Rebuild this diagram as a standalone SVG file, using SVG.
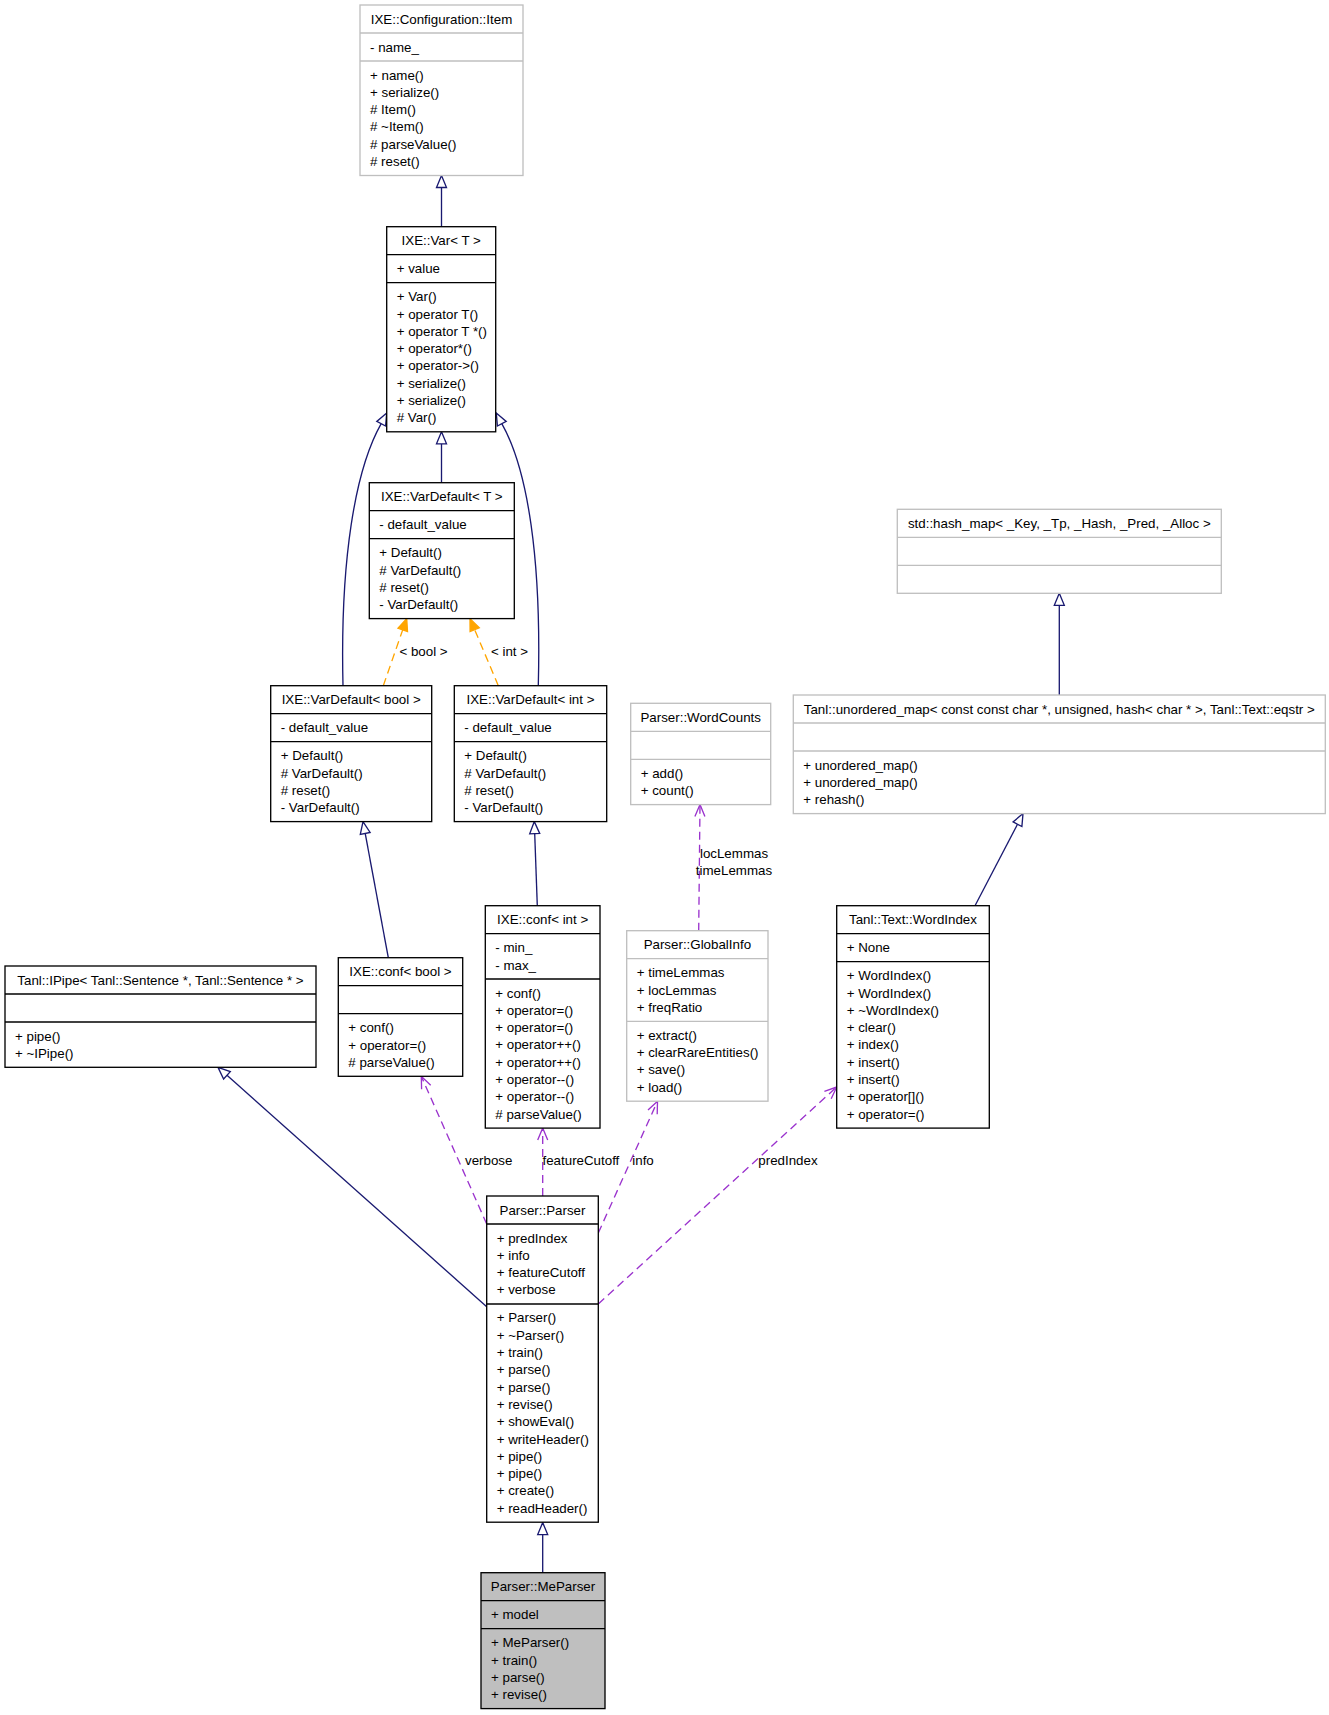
<svg xmlns="http://www.w3.org/2000/svg" width="1329" height="1715" viewBox="0 0 1329 1715">
<style>
text{font-family:"Liberation Sans",Arial,sans-serif;font-size:13.33px;fill:#000}
.t{text-anchor:middle}
.b{fill:#fff;stroke:#000;stroke-width:1.33}
.g{fill:#fff;stroke:#bfbfbf;stroke-width:1.33}
.m{fill:#bfbfbf;stroke:#000;stroke-width:1.33}
.sb{stroke:#000;stroke-width:1.33}
.sg{stroke:#bfbfbf;stroke-width:1.33}
.nv{fill:none;stroke:#191970;stroke-width:1.33}
.nvh{fill:#fff;stroke:#191970;stroke-width:1.33}
.or{fill:none;stroke:#ffa500;stroke-width:1.33;stroke-dasharray:8,5}
.orh{fill:#ffa500;stroke:#ffa500;stroke-width:1.33}
.pu{fill:none;stroke:#9a32cd;stroke-width:1.33;stroke-dasharray:8,5}
.puh{fill:none;stroke:#9a32cd;stroke-width:1.33}
</style>
<rect x="0" y="0" width="1329" height="1715" fill="#fff"/>

<g id="connectors">
<line class="nv" x1="441.5" y1="226.7" x2="441.5" y2="187.5"/>
<polygon class="nvh" points="441.5,175.5 446.5,187.5 436.5,187.5"/>
<line class="nv" x1="441.5" y1="482.7" x2="441.5" y2="443.8"/>
<polygon class="nvh" points="441.5,431.8 446.5,443.8 436.5,443.8"/>
<path class="nv" d="M343,685.7 C340,560 355,470 381.2,423.7"/>
<polygon class="nvh" points="386.7,413 385.6,426 376.8,421.4"/>
<path class="nv" d="M538.3,685.7 C541.5,560 528,470 501.8,423.7"/>
<polygon class="nvh" points="496.3,413 497.4,426 506.2,421.4"/>
<line class="nv" x1="388.3" y1="957.7" x2="365.2" y2="833.4"/>
<polygon class="nvh" points="363,821.6 370.1,832.5 360.3,834.3"/>
<line class="nv" x1="537.3" y1="905.7" x2="534.7" y2="833.6"/>
<polygon class="nvh" points="534.3,821.6 539.7,833.4 529.7,833.8"/>
<line class="nv" x1="1059.3" y1="695" x2="1059.3" y2="605.3"/>
<polygon class="nvh" points="1059.3,593.3 1064.3,605.3 1054.3,605.3"/>
<line class="nv" x1="975" y1="905.7" x2="1017.5" y2="824.2"/>
<polygon class="nvh" points="1023,813.6 1021.9,826.5 1013.1,821.9"/>
<line class="nv" x1="486.7" y1="1306.7" x2="227" y2="1075.3"/>
<polygon class="nvh" points="218,1067.3 230.3,1071.6 223.6,1079"/>
<line class="nv" x1="542.7" y1="1572.7" x2="542.7" y2="1534.6"/>
<polygon class="nvh" points="542.7,1522.6 547.7,1534.6 537.7,1534.6"/>

<line class="or" x1="383.3" y1="685.7" x2="402.7" y2="629.9"/>
<polygon class="orh" points="406.7,618.6 407.5,631.5 398,628.3"/>
<text class="t" x="423.5" y="656">&lt; bool &gt;</text>
<line class="or" x1="498.3" y1="685.7" x2="474.7" y2="629.7"/>
<polygon class="orh" points="470,618.6 479.3,627.8 470.1,631.6"/>
<text class="t" x="509.5" y="656">&lt; int &gt;</text>

<line class="pu" x1="486.7" y1="1224" x2="421.3" y2="1076.3"/>
<polyline class="puh" points="430.7,1085.3 421.3,1076.3 421.6,1089.3"/>
<text x="465" y="1164.5">verbose</text>
<line class="pu" x1="542.7" y1="1196" x2="542.7" y2="1128.1"/>
<polyline class="puh" points="537.7,1140.1 542.7,1128.1 547.7,1140.1"/>
<text x="542.5" y="1164.5">featureCutoff</text>
<line class="pu" x1="598.3" y1="1233" x2="657.5" y2="1101.2"/>
<polyline class="puh" points="657.2,1114.2 657.5,1101.2 648,1110"/>
<text x="632.3" y="1164.5">info</text>
<line class="pu" x1="598.3" y1="1304" x2="836.7" y2="1087"/>
<polyline class="puh" points="831.2,1098.8 836.7,1087 824.4,1091.4"/>
<text x="758.3" y="1164.5">predIndex</text>
<line class="pu" x1="698.7" y1="930.7" x2="700" y2="804.6"/>
<polyline class="puh" points="704.9,816.6 700,804.6 694.9,816.6"/>
<text class="t" x="734" y="857.7">locLemmas</text>
<text class="t" x="734" y="875">timeLemmas</text>
</g>

<g id="node-item">
<rect class="g" x="360" y="5" width="163" height="170.5"/>
<line class="sg" x1="360" y1="33" x2="523" y2="33"/>
<line class="sg" x1="360" y1="61" x2="523" y2="61"/>
<text class="t" x="441.5" y="23.5">IXE::Configuration::Item</text>
<text x="370" y="51.5">- name_</text>
<text x="370" y="79.5">+ name()</text>
<text x="370" y="96.8">+ serialize()</text>
<text x="370" y="114.1"># Item()</text>
<text x="370" y="131.4"># ~Item()</text>
<text x="370" y="148.7"># parseValue()</text>
<text x="370" y="166"># reset()</text>
</g>

<g id="node-var">
<rect class="b" x="386.7" y="226.7" width="109" height="205.1"/>
<line class="sb" x1="386.7" y1="254.7" x2="495.7" y2="254.7"/>
<line class="sb" x1="386.7" y1="282.7" x2="495.7" y2="282.7"/>
<text class="t" x="441.2" y="245.2">IXE::Var&lt; T &gt;</text>
<text x="396.7" y="273.2">+ value</text>
<text x="396.7" y="301.2">+ Var()</text>
<text x="396.7" y="318.5">+ operator T()</text>
<text x="396.7" y="335.8">+ operator T *()</text>
<text x="396.7" y="353.1">+ operator*()</text>
<text x="396.7" y="370.4">+ operator-&gt;()</text>
<text x="396.7" y="387.7">+ serialize()</text>
<text x="396.7" y="405">+ serialize()</text>
<text x="396.7" y="422.3"># Var()</text>
</g>

<g id="node-vardefault-t">
<rect class="b" x="369.3" y="482.7" width="145" height="135.9"/>
<line class="sb" x1="369.3" y1="510.7" x2="514.3" y2="510.7"/>
<line class="sb" x1="369.3" y1="538.7" x2="514.3" y2="538.7"/>
<text class="t" x="441.8" y="501.2">IXE::VarDefault&lt; T &gt;</text>
<text x="379.3" y="529.2">- default_value</text>
<text x="379.3" y="557.2">+ Default()</text>
<text x="379.3" y="574.5"># VarDefault()</text>
<text x="379.3" y="591.8"># reset()</text>
<text x="379.3" y="609.1">- VarDefault()</text>
</g>

<g id="node-vardefault-bool">
<rect class="b" x="270.7" y="685.7" width="161" height="135.9"/>
<line class="sb" x1="270.7" y1="713.7" x2="431.7" y2="713.7"/>
<line class="sb" x1="270.7" y1="741.7" x2="431.7" y2="741.7"/>
<text class="t" x="351.2" y="704.2">IXE::VarDefault&lt; bool &gt;</text>
<text x="280.7" y="732.2">- default_value</text>
<text x="280.7" y="760.2">+ Default()</text>
<text x="280.7" y="777.5"># VarDefault()</text>
<text x="280.7" y="794.8"># reset()</text>
<text x="280.7" y="812.1">- VarDefault()</text>
</g>

<g id="node-vardefault-int">
<rect class="b" x="454.3" y="685.7" width="152.4" height="135.9"/>
<line class="sb" x1="454.3" y1="713.7" x2="606.7" y2="713.7"/>
<line class="sb" x1="454.3" y1="741.7" x2="606.7" y2="741.7"/>
<text class="t" x="530.5" y="704.2">IXE::VarDefault&lt; int &gt;</text>
<text x="464.3" y="732.2">- default_value</text>
<text x="464.3" y="760.2">+ Default()</text>
<text x="464.3" y="777.5"># VarDefault()</text>
<text x="464.3" y="794.8"># reset()</text>
<text x="464.3" y="812.1">- VarDefault()</text>
</g>

<g id="node-conf-bool">
<rect class="b" x="338.3" y="957.7" width="124.4" height="118.6"/>
<line class="sb" x1="338.3" y1="985.7" x2="462.7" y2="985.7"/>
<line class="sb" x1="338.3" y1="1013.7" x2="462.7" y2="1013.7"/>
<text class="t" x="400.5" y="976.2">IXE::conf&lt; bool &gt;</text>
<text x="348.3" y="1032.2">+ conf()</text>
<text x="348.3" y="1049.5">+ operator=()</text>
<text x="348.3" y="1066.8"># parseValue()</text>
</g>

<g id="node-conf-int">
<rect class="b" x="485.3" y="905.7" width="114.7" height="222.4"/>
<line class="sb" x1="485.3" y1="933.7" x2="600" y2="933.7"/>
<line class="sb" x1="485.3" y1="979" x2="600" y2="979"/>
<text class="t" x="542.65" y="924.2">IXE::conf&lt; int &gt;</text>
<text x="495.3" y="952.2">- min_</text>
<text x="495.3" y="969.5">- max_</text>
<text x="495.3" y="997.5">+ conf()</text>
<text x="495.3" y="1014.8">+ operator=()</text>
<text x="495.3" y="1032.1">+ operator=()</text>
<text x="495.3" y="1049.4">+ operator++()</text>
<text x="495.3" y="1066.7">+ operator++()</text>
<text x="495.3" y="1084">+ operator--()</text>
<text x="495.3" y="1101.3">+ operator--()</text>
<text x="495.3" y="1118.6"># parseValue()</text>
</g>

<g id="node-ipipe">
<rect class="b" x="5" y="966" width="311" height="101.3"/>
<line class="sb" x1="5" y1="994" x2="316" y2="994"/>
<line class="sb" x1="5" y1="1022" x2="316" y2="1022"/>
<text class="t" x="160.5" y="984.5">Tanl::IPipe&lt; Tanl::Sentence *, Tanl::Sentence * &gt;</text>
<text x="15" y="1040.5">+ pipe()</text>
<text x="15" y="1057.8">+ ~IPipe()</text>
</g>

<g id="node-wordcounts">
<rect class="g" x="630.7" y="703.3" width="140" height="101.3"/>
<line class="sg" x1="630.7" y1="731.3" x2="770.7" y2="731.3"/>
<line class="sg" x1="630.7" y1="759.3" x2="770.7" y2="759.3"/>
<text class="t" x="700.7" y="721.8">Parser::WordCounts</text>
<text x="640.7" y="777.8">+ add()</text>
<text x="640.7" y="795.1">+ count()</text>
</g>

<g id="node-globalinfo">
<rect class="g" x="626.7" y="930.7" width="141.3" height="170.5"/>
<line class="sg" x1="626.7" y1="958.7" x2="768" y2="958.7"/>
<line class="sg" x1="626.7" y1="1021.3" x2="768" y2="1021.3"/>
<text class="t" x="697.35" y="949.2">Parser::GlobalInfo</text>
<text x="636.7" y="977.2">+ timeLemmas</text>
<text x="636.7" y="994.5">+ locLemmas</text>
<text x="636.7" y="1011.8">+ freqRatio</text>
<text x="636.7" y="1039.8">+ extract()</text>
<text x="636.7" y="1057.1">+ clearRareEntities()</text>
<text x="636.7" y="1074.4">+ save()</text>
<text x="636.7" y="1091.7">+ load()</text>
</g>

<g id="node-hashmap">
<rect class="g" x="897.3" y="509.3" width="324" height="84"/>
<line class="sg" x1="897.3" y1="537.3" x2="1221.3" y2="537.3"/>
<line class="sg" x1="897.3" y1="565.3" x2="1221.3" y2="565.3"/>
<text class="t" x="1059.3" y="527.8">std::hash_map&lt; _Key, _Tp, _Hash, _Pred, _Alloc &gt;</text>
</g>

<g id="node-unorderedmap">
<rect class="g" x="793.3" y="695" width="532" height="118.6"/>
<line class="sg" x1="793.3" y1="723" x2="1325.3" y2="723"/>
<line class="sg" x1="793.3" y1="751" x2="1325.3" y2="751"/>
<text class="t" x="1059.3" y="713.5">Tanl::unordered_map&lt; const const char *, unsigned, hash&lt; char * &gt;, Tanl::Text::eqstr &gt;</text>
<text x="803.3" y="769.5">+ unordered_map()</text>
<text x="803.3" y="786.8">+ unordered_map()</text>
<text x="803.3" y="804.1">+ rehash()</text>
</g>

<g id="node-wordindex">
<rect class="b" x="836.7" y="905.7" width="152.6" height="222.4"/>
<line class="sb" x1="836.7" y1="933.7" x2="989.3" y2="933.7"/>
<line class="sb" x1="836.7" y1="961.7" x2="989.3" y2="961.7"/>
<text class="t" x="913" y="924.2">Tanl::Text::WordIndex</text>
<text x="846.7" y="952.2">+ None</text>
<text x="846.7" y="980.2">+ WordIndex()</text>
<text x="846.7" y="997.5">+ WordIndex()</text>
<text x="846.7" y="1014.8">+ ~WordIndex()</text>
<text x="846.7" y="1032.1">+ clear()</text>
<text x="846.7" y="1049.4">+ index()</text>
<text x="846.7" y="1066.7">+ insert()</text>
<text x="846.7" y="1084">+ insert()</text>
<text x="846.7" y="1101.3">+ operator[]()</text>
<text x="846.7" y="1118.6">+ operator=()</text>
</g>

<g id="node-parser">
<rect class="b" x="486.7" y="1196" width="111.6" height="326.2"/>
<line class="sb" x1="486.7" y1="1224" x2="598.3" y2="1224"/>
<line class="sb" x1="486.7" y1="1304" x2="598.3" y2="1304"/>
<text class="t" x="542.5" y="1214.5">Parser::Parser</text>
<text x="496.7" y="1242.5">+ predIndex</text>
<text x="496.7" y="1259.8">+ info</text>
<text x="496.7" y="1277.1">+ featureCutoff</text>
<text x="496.7" y="1294.4">+ verbose</text>
<text x="496.7" y="1322.4">+ Parser()</text>
<text x="496.7" y="1339.7">+ ~Parser()</text>
<text x="496.7" y="1357">+ train()</text>
<text x="496.7" y="1374.3">+ parse()</text>
<text x="496.7" y="1391.6">+ parse()</text>
<text x="496.7" y="1408.9">+ revise()</text>
<text x="496.7" y="1426.2">+ showEval()</text>
<text x="496.7" y="1443.5">+ writeHeader()</text>
<text x="496.7" y="1460.8">+ pipe()</text>
<text x="496.7" y="1478.1">+ pipe()</text>
<text x="496.7" y="1495.4">+ create()</text>
<text x="496.7" y="1512.7">+ readHeader()</text>
</g>

<g id="node-meparser">
<rect class="m" x="481" y="1572.7" width="124" height="135.9"/>
<line class="sb" x1="481" y1="1600.7" x2="605" y2="1600.7"/>
<line class="sb" x1="481" y1="1628.7" x2="605" y2="1628.7"/>
<text class="t" x="543" y="1591.2">Parser::MeParser</text>
<text x="491" y="1619.2">+ model</text>
<text x="491" y="1647.2">+ MeParser()</text>
<text x="491" y="1664.5">+ train()</text>
<text x="491" y="1681.8">+ parse()</text>
<text x="491" y="1699.1">+ revise()</text>
</g>
</svg>
